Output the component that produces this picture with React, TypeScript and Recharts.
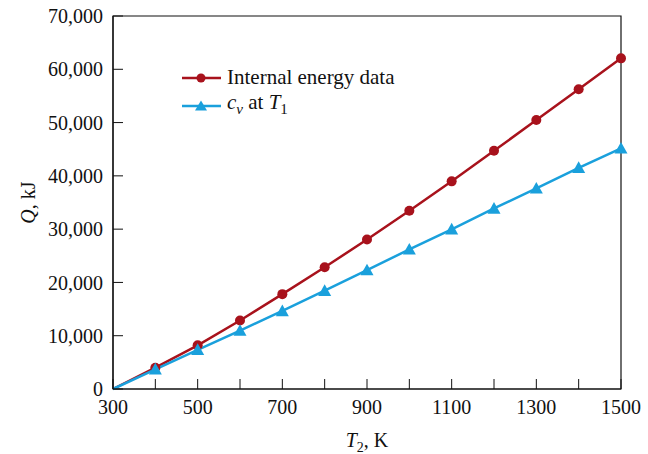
import React from 'react';
import {
  LineChart,
  Line,
  XAxis,
  YAxis,
  ReferenceArea,
  Legend,
  Label,
} from 'recharts';

const temperatures = [300, 400, 500, 600, 700, 800, 900, 1000, 1100, 1200, 1300, 1400, 1500];
const internalEnergy = [0, 4000, 8200, 12850, 17800, 22850, 28050, 33450, 38970, 44700, 50480, 56250, 62050];
const cvAtT1 = [0, 3700, 7350, 10950, 14650, 18450, 22300, 26200, 29970, 33880, 37650, 41500, 45150];
const xTicks = [300, 400, 500, 600, 700, 800, 900, 1000, 1100, 1200, 1300, 1400, 1500];
const yTicks = [0, 10000, 20000, 30000, 40000, 50000, 60000, 70000];

const RED = '#a8121c';
const BLUE = '#1aa0dc';
const FONT = '"Liberation Serif", "DejaVu Serif", serif';

const data = temperatures.map((t, i) => ({ t, u: internalEnergy[i], cv: cvAtT1[i] }));

const CircleDot = (props: any) => {
  const { cx, cy, index } = props;
  if (index === 0 || cx == null) return <g key={`c-${index}`} />;
  return <circle key={`c-${index}`} cx={cx} cy={cy} r={5} fill={RED} />;
};

const TriangleDot = (props: any) => {
  const { cx, cy, index } = props;
  if (index === 0 || cx == null) return <g key={`t-${index}`} />;
  const s = 6.5;
  return (
    <path
      key={`t-${index}`}
      d={`M${cx},${cy - s} L${cx + s},${cy + s * 0.8} L${cx - s},${cy + s * 0.8} Z`}
      fill={BLUE}
    />
  );
};

// legend sits inside the plot, top-left
const LegendBox = () => (
  <div
    style={{
      position: 'absolute',
      left: 182,
      top: 65,
      whiteSpace: 'nowrap',
      fontFamily: FONT,
      fontSize: 21,
      color: '#111',
      lineHeight: '25px',
    }}
  >
    <div style={{ display: 'flex', alignItems: 'center' }}>
      <svg width={40} height={12} style={{ marginRight: 5 }}>
        <line x1={0} y1={6} x2={39} y2={6} stroke={RED} strokeWidth={2.5} />
        <circle cx={19} cy={6} r={4.5} fill={RED} />
      </svg>
      <span>Internal energy data</span>
    </div>
    <div style={{ display: 'flex', alignItems: 'center' }}>
      <svg width={40} height={12} style={{ marginRight: 5 }}>
        <line x1={0} y1={6} x2={39} y2={6} stroke={BLUE} strokeWidth={2.5} />
        <path d="M19,0.5 L25,10.5 L13,10.5 Z" fill={BLUE} />
      </svg>
      <span>
        <i>c</i>
        <sub style={{ fontSize: 15 }}>
          <i>v</i>
        </sub>{' '}
        at <i>T</i>
        <sub style={{ fontSize: 15 }}>1</sub>
      </span>
    </div>
  </div>
);

const XLabel = (props: any) => {
  const { viewBox } = props;
  const cx = viewBox.x + viewBox.width / 2;
  return (
    <text x={cx} y={viewBox.y + 58} textAnchor="middle" fontFamily={FONT} fontSize={20} fill="#111">
      <tspan fontStyle="italic">T</tspan>
      <tspan fontSize={14} dy={5}>2</tspan>
      <tspan dy={-5}>, K</tspan>
    </text>
  );
};

const YLabel = (props: any) => {
  const { viewBox } = props;
  const cy = viewBox.y + viewBox.height / 2;
  const x = 35;
  return (
    <text
      x={x}
      y={cy}
      textAnchor="middle"
      transform={`rotate(-90, ${x}, ${cy})`}
      fontFamily={FONT}
      fontSize={20}
      fill="#111"
    >
      <tspan fontStyle="italic">Q</tspan>
      <tspan>, kJ</tspan>
    </text>
  );
};

export default function App() {
  return (
    <div style={{ position: 'absolute', left: 0, top: 0, background: '#fff' }}>
      <LineChart width={648} height={454} data={data} margin={{ top: 16, right: 27, left: 0, bottom: 0 }}>
        <ReferenceArea x1={300} x2={1500} y1={0} y2={70000} fill="none" stroke="#111" strokeWidth={1.2} />
        <XAxis
          dataKey="t"
          type="number"
          domain={[300, 1500]}
          ticks={xTicks}
          tickFormatter={(v: number) => ((v - 300) % 200 === 0 ? String(v) : '')}
          height={65}
          tickSize={-10}
          tickMargin={21}
          interval={0}
          stroke="#111"
          tick={{ fontFamily: FONT, fontSize: 20, fill: '#111' }}
          tickLine={{ stroke: '#111' }}
          axisLine={{ stroke: '#111', strokeWidth: 1.2 }}
        >
          <Label content={XLabel} />
        </XAxis>
        <YAxis
          type="number"
          domain={[0, 70000]}
          ticks={yTicks}
          tickFormatter={(v: number) => v.toLocaleString('en-US')}
          width={113}
          tickSize={-10}
          tickMargin={20}
          interval={0}
          stroke="#111"
          tick={{ fontFamily: FONT, fontSize: 20, fill: '#111' }}
          tickLine={{ stroke: '#111' }}
          axisLine={{ stroke: '#111', strokeWidth: 1.2 }}
        >
          <Label content={YLabel} />
        </YAxis>
        <Legend
          content={LegendBox}
          verticalAlign="top"
          align="left"
          wrapperStyle={{ position: 'absolute', left: 0, top: 0, width: 0, height: 0, overflow: 'visible' }}
        />
        <Line
          dataKey="u"
          stroke={RED}
          strokeWidth={2.5}
          dot={CircleDot}
          activeDot={false}
          isAnimationActive={false}
        />
        <Line
          dataKey="cv"
          stroke={BLUE}
          strokeWidth={2.5}
          dot={TriangleDot}
          activeDot={false}
          isAnimationActive={false}
        />
      </LineChart>
    </div>
  );
}
